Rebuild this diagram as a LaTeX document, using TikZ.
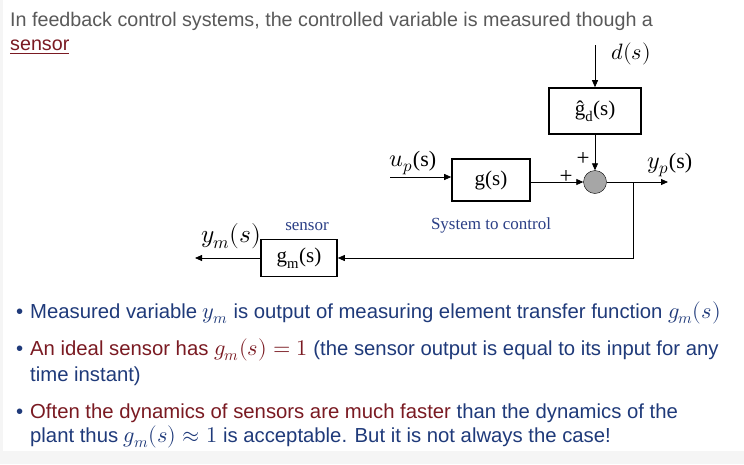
\documentclass[tikz,border=0pt]{standalone}
\usepackage{fontspec}
\usepackage{unicode-math}
\setmainfont{Liberation Sans}
\setmathfont{latinmodern-math.otf}[Scale=1.1]
\newfontfamily\serif{Liberation Serif}
\usetikzlibrary{arrows.meta,positioning}
\definecolor{headgray}{HTML}{595959}
\definecolor{navy}{HTML}{1F3A7A}
\definecolor{wine}{HTML}{7A1A22}
\definecolor{lblue}{HTML}{2B3F86}
\tikzset{
  block/.style={draw, line width=1.6pt, minimum width=78pt, minimum height=42pt, inner sep=0pt, font=\serif\fontsize{21}{24}\selectfont},
  sumpt/.style={circle, draw, fill=black!35, minimum size=23pt, inner sep=0pt},
  sig/.style={-{Triangle[length=7pt,width=6pt]}, line width=0.8pt},
  lbl/.style={anchor=base, inner sep=0pt, font=\serif\fontsize{21}{24}\selectfont},
  note/.style={font=\serif\fontsize{17}{20}\selectfont, text=lblue},
  bul/.style={anchor=base west, font=\fontsize{20.3}{23}\selectfont, text=navy, inner sep=0pt}
}
\begin{document}
\begin{tikzpicture}[x=1pt, y=-1pt]
  \useasboundingbox (0,0) rectangle (744,464);
  \fill[black!4] (0,0) rectangle (744,464);
  \fill[white] (3,0) rectangle (744,451);
  % heading
  \node[anchor=base west, inner sep=0pt, text=headgray, font=\fontsize{19.7}{22}\selectfont] (head1) at (10,26)
    {In feedback control systems, the controlled variable is measured though a};
  \node[anchor=base west, inner sep=0pt, text=wine, font=\fontsize{19.7}{22}\selectfont] (head2) at (10,50)
    {\underline{sensor}};
  % blocks
  \node[block, minimum width=92pt, minimum height=46pt] (gd) at (595,111) {ĝ\textsubscript{d}(s)};
  \node[block] (g) at (491,180) {g(s)};
  \node[sumpt] (sum) at (595,182) {};
  \node[block, minimum width=76pt, minimum height=37pt] (gm) at (299,258) {g\textsubscript{m}(s)};
  \coordinate (din) at (595,45);
  \coordinate (uin) at (390,177);
  \coordinate (branch) at (633,182);
  \coordinate (ypout) at (668,182);
  \coordinate (ymout) at (195,258);
  % connectors
  \draw[sig] (din) -- (gd);
  \draw[sig] (gd) -- (sum);
  \draw[sig] (uin) -- (g.west |- uin);
  \draw[sig] (g.east |- sum) -- (sum);
  \draw[sig] (sum) -- (ypout);
  \draw[sig] (branch) |- (gm);
  \draw[sig] (gm) -- (ymout);
  % labels
  \node[lbl, font=\serif\fontsize{20.2}{22}\selectfont] (dlab) at (631,59) {$d(s)$};
  \node[lbl, font=\serif\fontsize{22}{24}\selectfont] (uplab) at (413,166) {$u_p$(s)};
  \node[lbl, font=\serif\fontsize{22}{24}\selectfont] (yplab) at (670,168) {$y_p$(s)};
  \node[lbl, font=\serif\fontsize{23}{24}\selectfont] (ymlab) at (231,242) {$y_m(s)$};
  \node[lbl, font=\serif\fontsize{23}{24}\selectfont] (plus1) at (583,165) {+};
  \node[lbl, font=\serif\fontsize{23}{24}\selectfont] (plus2) at (566,183) {+};
  \node[note] (sensorlab) at (307,227) {sensor};
  \node[note] (syslab) at (491,225) {System to control};
  % bullets
  \foreach \yy in {318,355,418} \node[bul] at (16,\yy) {•};
  \node[bul] (b1) at (30,318) {Measured variable $y_m$ is output of measuring element transfer function $g_m(s)$};
  \node[bul] (b2) at (30,355) {\textcolor{wine}{An ideal sensor has $g_m(s)=1$} (the sensor output is equal to its input for any};
  \node[bul] (b2b) at (30,381) {time instant)};
  \node[bul] (b3) at (30,418) {\textcolor{wine}{Often the dynamics of sensors are much faster} than the dynamics of the};
  \node[bul] (b3b) at (30,442) {plant thus $g_m(s)\approx 1$ is acceptable. But it is not always the case!};
\end{tikzpicture}
\end{document}
